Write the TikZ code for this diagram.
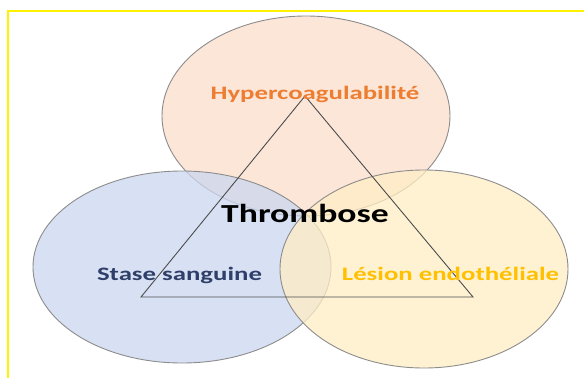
\documentclass[tikz,border=0pt]{standalone}
\usepackage{fontspec}
\setmainfont{Carlito}
\usepackage{tikz}
\usetikzlibrary{shapes.geometric, positioning}
\definecolor{hyperfill}{HTML}{FBDDCB}
\definecolor{stasefill}{HTML}{CBD7EF}
\definecolor{lesionfill}{HTML}{FFEEC4}
\definecolor{hypertext}{HTML}{ED7D31}
\definecolor{stasetext}{HTML}{2F3F6A}
\definecolor{lesiontext}{HTML}{FFC000}
\tikzstyle{circle zone} = [ellipse, draw=black!45, line width=0.9pt, fill opacity=0.75, inner sep=0pt]
\tikzstyle{zone label} = [font=\bfseries\fontsize{19}{22}\selectfont, inner sep=0pt, anchor=base, xscale=1.41]

\begin{document}
\begin{tikzpicture}[x=1pt,y=-1pt]
        \useasboundingbox (0,0) rectangle (584,378);
        % Frame
        \draw [yellow, line width=2pt] (7.5,378) -- (7.5,10.5) -- (584,10.5);

        % Circles
        \node (hyper) [circle zone, fill=hyperfill, minimum width=288pt, minimum height=200pt] at (306,116) {};
        \node (stase) [circle zone, fill=stasefill, minimum width=298pt, minimum height=192pt] at (182,267) {};
        \node (lesion) [circle zone, fill=lesionfill, minimum width=288pt, minimum height=198pt] at (424,269) {};

        % Triangle
        \coordinate (apex) at (305,96);
        \coordinate (base left) at (141,297);
        \coordinate (base right) at (473,297);
        \draw [black!70, line width=0.9pt] (apex) -- (base left) -- (base right) -- cycle;

        % Labels
        \node (hyper label) [zone label, text=hypertext] at (315,99) {Hypercoagulabilité};
        \node (stase label) [zone label, text=stasetext] at (179.5,280.5) {Stase sanguine};
        \node (lesion label) [zone label, text=lesiontext] at (450.5,280.5) {Lésion endothéliale};
        \node (thrombose) [font=\bfseries\fontsize{26}{30}\selectfont, inner sep=0pt, anchor=base, xscale=1.37] at (305,222.5) {Thrombose};
      \end{tikzpicture}
\end{document}
